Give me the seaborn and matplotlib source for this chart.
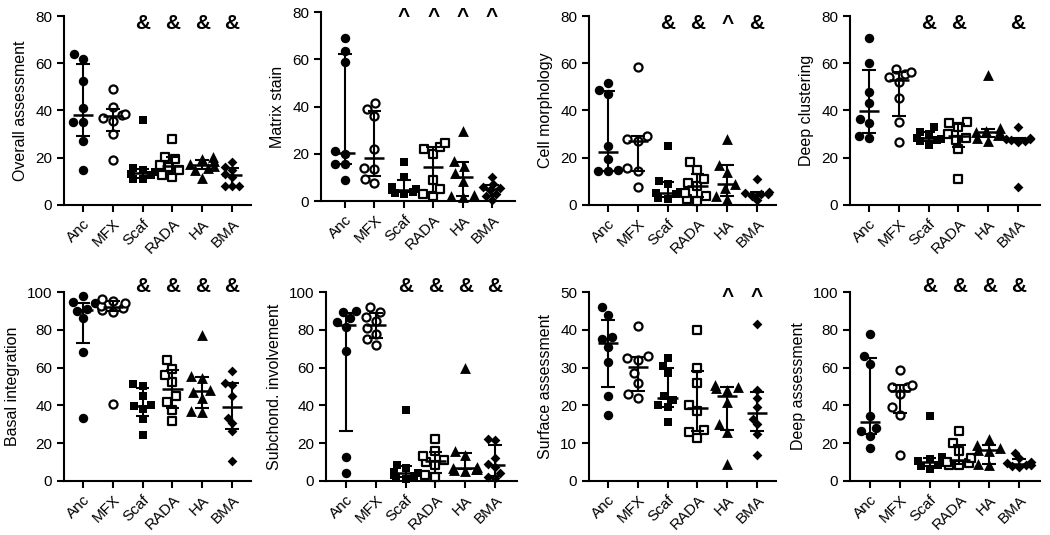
import numpy as np
import pandas as pd
import matplotlib
matplotlib.use("Agg")
import matplotlib.pyplot as plt
import matplotlib.transforms as mtransforms
import seaborn as sns

groups = ["Anc", "MFX", "Scaf", "RADA", "HA", "BMA"]

# one list of scores per group (Anc, MFX, Scaf, RADA, HA, BMA)
overall = [
    [15, 27, 35, 35, 41, 52.5, 62, 64],
    [19, 30, 35.5, 37, 38, 38.5, 41.5, 49],
    [11, 11, 12.5, 13, 14, 15, 15.5, 36],
    [12, 12.5, 15, 16, 17, 19.5, 20.5, 28],
    [11.5, 15, 15.5, 16.5, 17.5, 18.5, 19.5, 20.5],
    [8, 8, 8.2, 12, 13, 15, 16, 18],
]
matrix = [
    [9, 15.5, 15.5, 20, 21, 59, 63.5, 69],
    [7.5, 9.5, 13.5, 14, 22, 36, 39, 41.5],
    [3, 3.5, 4, 4.5, 5, 6, 10, 16.5],
    [2, 3, 5, 9, 20, 22, 23, 24.5],
    [1.5, 2, 2.5, 8.5, 12, 15, 17, 29.5],
    [0.5, 2, 3, 4.5, 5.5, 6, 7, 10],
]
cell = [
    [14.5, 14.5, 14.8, 19.5, 25, 47, 48.5, 51.5],
    [7.5, 14.5, 15.5, 27, 28, 29, 58.5],
    [2.5, 3, 4.5, 5, 5.5, 9, 10, 25],
    [1.5, 2.5, 4, 5, 8, 9.5, 11, 15, 18],
    [2.5, 4, 7, 9, 14, 17, 28],
    [2, 4, 4.5, 4.5, 5, 5.5, 11],
]
clustering = [
    [28.5, 29, 34.5, 36.5, 43, 48, 60, 70.5],
    [26.5, 35, 45.5, 52, 54, 55.5, 56.5, 57.5],
    [25.5, 27, 27.5, 28, 28.5, 30, 31, 33],
    [11, 23.5, 27.5, 28.5, 30, 33, 34.5, 35],
    [27, 28.5, 29.5, 30.5, 31, 31.5, 32.5, 55],
    [7.5, 26.5, 27, 27.5, 28, 28, 28.5, 33],
]
basal = [
    [33.5, 68.5, 86, 90, 91, 94, 94.5, 98],
    [41, 89.5, 90.5, 91.5, 92.5, 94, 95.5, 96.5],
    [24.5, 33, 38, 39.5, 40, 45, 50.5, 51.5],
    [32, 37.5, 42, 45, 52.5, 56, 59.5, 64],
    [36.5, 37, 44, 47, 48, 54.5, 55.5, 77],
    [10.5, 26.5, 30.5, 33.5, 45, 51, 52, 58],
]
subchond = [
    [4, 12.5, 69, 81.5, 84, 86, 89.5, 90],
    [72, 75, 78, 81, 84.5, 87, 89.5, 92],
    [1, 1.5, 2.5, 3, 4, 5, 7, 8.5, 37.5],
    [2, 3, 8.5, 10, 11, 13, 16, 22],
    [5.5, 6, 6.5, 6.5, 7, 7.5, 14, 16, 60],
    [1.5, 2, 4, 7.5, 9, 12, 21.5, 22],
]
surface = [
    [17.5, 22.5, 31.5, 35.5, 37.5, 38, 44, 46],
    [22, 23, 26, 28.5, 32, 32.5, 33, 41],
    [15.5, 19.5, 20, 21.5, 22.5, 28.5, 30.5, 32.5],
    [11.5, 13, 13.5, 18.5, 20, 26, 30, 40],
    [4.5, 13, 15, 21, 24, 24.5, 25, 25.5],
    [7, 12.5, 15, 16.5, 19.5, 22, 24, 41.5],
]
deep = [
    [17.5, 24, 26.5, 28, 34.5, 62, 66, 78],
    [14, 35, 39, 46, 49.5, 50, 51, 58.5],
    [6.5, 8, 8.5, 9.5, 10.5, 11.5, 12.5, 34.5],
    [8.5, 8.5, 9.5, 10, 12, 16, 20, 26.5],
    [8.5, 9, 16, 16.5, 17.5, 19, 22],
    [7.5, 8, 8.5, 8.5, 9.5, 10, 12, 15],
]

titles = ["Overall assessment", "Matrix stain", "Cell morphology", "Deep clustering",
          "Basal integration", "Subchond. involvement", "Surface assessment", "Deep assessment"]
panel_data = [overall, matrix, cell, clustering, basal, subchond, surface, deep]
y_tops = [80, 80, 80, 80, 100, 100, 50, 100]
y_steps = [20, 20, 20, 20, 20, 20, 10, 20]
# significance signs over Scaf, RADA, HA, BMA
signs = [
    ["&", "&", "&", "&"],
    ["^", "^", "^", "^"],
    ["&", "&", "^", "&"],
    ["&", "&", "", "&"],
    ["&", "&", "&", "&"],
    ["&", "&", "&", "&"],
    ["", "", "^", "^"],
    ["&", "&", "&", "&"],
]

# marker, filled, size
styles = {
    "Anc": ("o", True, 6.8),
    "MFX": ("o", False, 6.8),
    "Scaf": ("s", True, 6.4),
    "RADA": ("s", False, 6.4),
    "HA": ("^", True, 7.8),
    "BMA": ("D", True, 5.0),
}

sns.set_style("ticks")
plt.rcParams["font.family"] = ["Liberation Sans", "DejaVu Sans"]
plt.rcParams["axes.linewidth"] = 1.5
for key in ["text.color", "axes.labelcolor", "xtick.color", "ytick.color", "axes.edgecolor"]:
    plt.rcParams[key] = "black"

W, H = 1050, 535
fig = plt.figure(figsize=(W / 100, H / 100), dpi=100)

# axis left px, first cat px, last cat px, right end px, top px, bottom px
frames = [
    (64, 83, 232, 251, 16, 205),
    (321, 345, 492, 515, 12, 201),
    (589, 608, 757, 776, 16, 205),
    (850, 869, 1018, 1040, 16, 205),
    (64, 83, 232, 251, 292, 481),
    (326, 346, 495, 517, 292, 481),
    (589, 608, 757, 776, 292, 481),
    (850, 870, 1019, 1040, 292, 481),
]

for k in range(8):
    l, c0, c5, r, t, b = frames[k]
    ax = fig.add_axes([l / W, 1 - b / H, (r - l) / W, (b - t) / H])
    step = (c5 - c0) / 5

    rows = []
    for g, vals in zip(groups, panel_data[k]):
        for v in vals:
            rows.append((g, v))
    df = pd.DataFrame(rows, columns=["group", "value"])

    for g in groups:
        marker, filled, size = styles[g]
        sub = df[df["group"] == g]
        if filled:
            sns.swarmplot(data=sub, x="group", y="value", order=groups, ax=ax,
                          marker=marker, color="black", size=size, linewidth=0,
                          clip_on=False, zorder=3, warn_thresh=1)
        else:
            sns.swarmplot(data=sub, x="group", y="value", order=groups, ax=ax,
                          marker=marker, color="white", edgecolor="black",
                          size=size - 1, linewidth=1.6, clip_on=False, zorder=3,
                          warn_thresh=1)

    # median with interquartile range
    for i, vals in enumerate(panel_data[k]):
        q1, med, q3 = np.percentile(vals, [25, 50, 75], method="weibull")
        ax.vlines(i, q1, q3, color="black", lw=1.5, zorder=4)
        ax.hlines([q1, q3], i - 0.23, i + 0.23, color="black", lw=1.5, zorder=4)
        ax.hlines(med, i - 0.34, i + 0.34, color="black", lw=1.8, zorder=4)

    ax.set_xlim(-(c0 - l) / step, 5 + (r - c5) / step)
    ax.set_ylim(0, y_tops[k])
    ax.set_yticks(np.arange(0, y_tops[k] + 1, y_steps[k]))
    ax.set_xlabel("")
    ax.set_ylabel(titles[k], fontsize=11.5, labelpad=5)
    ax.tick_params(axis="both", length=5, width=1.5, labelsize=11)
    ax.set_xticks(range(6))
    ax.set_xticklabels(groups, rotation=45, ha="right", rotation_mode="anchor")
    sns.despine(ax=ax)

    trans = mtransforms.blended_transform_factory(ax.transData, ax.transAxes)
    amp_y = 0.96 if k < 4 else 1.03
    caret_y = amp_y if "&" in signs[k] else 0.975
    for j, s in enumerate(signs[k]):
        if s == "&":
            ax.text(j + 2, amp_y, s, transform=trans, ha="center", va="center",
                    fontsize=15, fontweight="bold", color="black")
        elif s == "^":
            ax.text(j + 2, caret_y, s, transform=trans, ha="center", va="center",
                    fontsize=15, fontweight="bold", color="black")

fig.savefig("out.png", dpi=100)
